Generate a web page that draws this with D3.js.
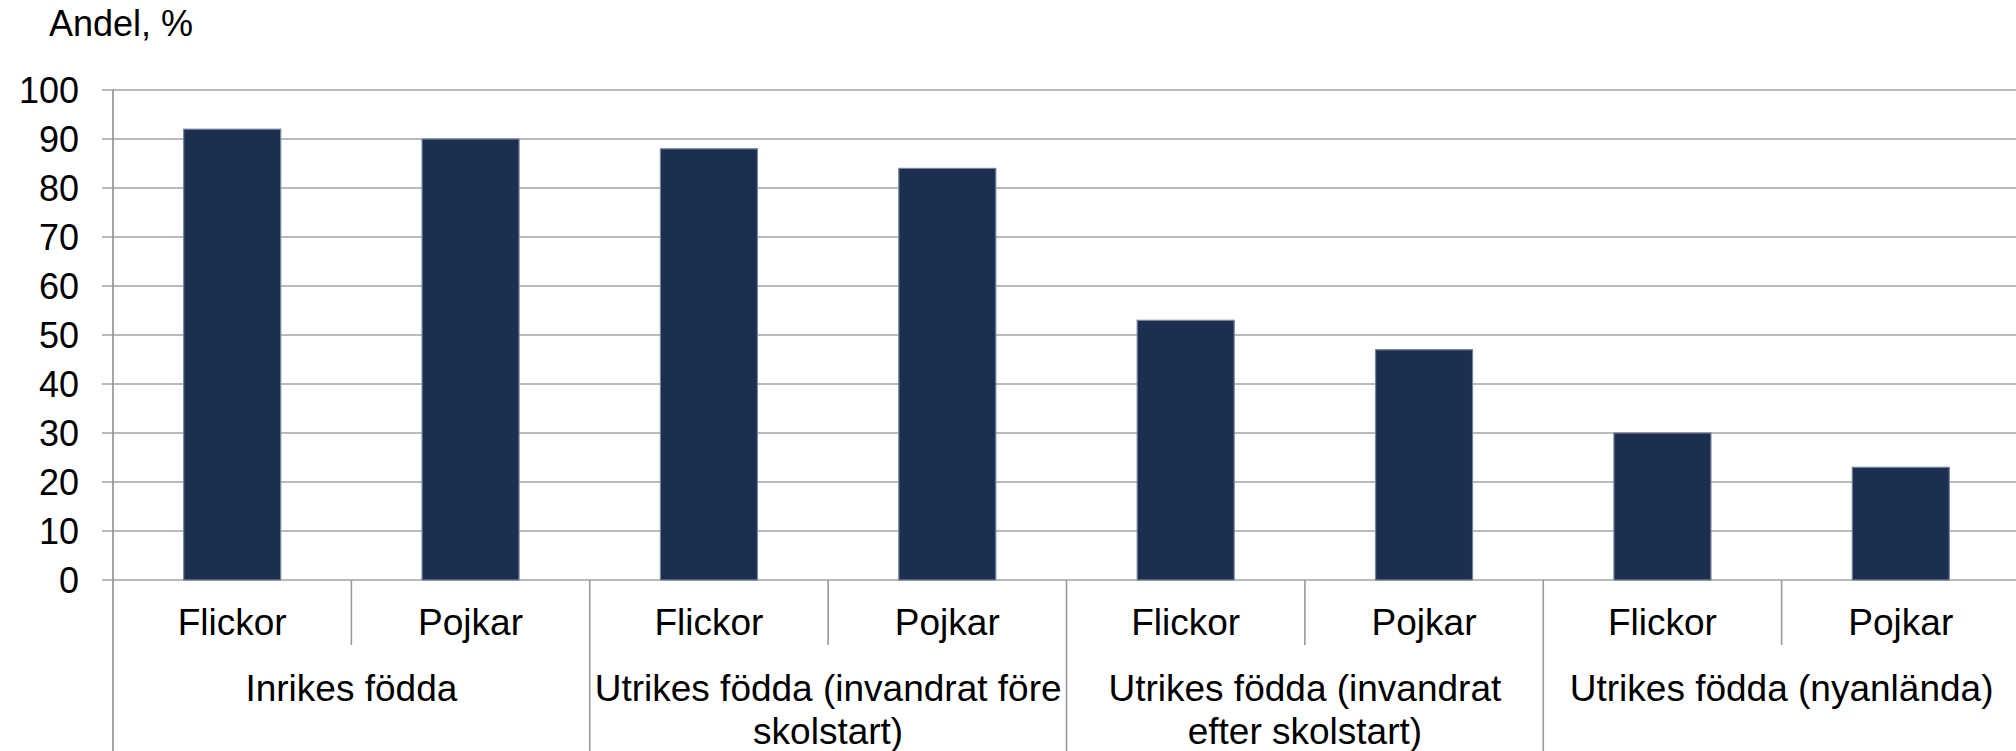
<!DOCTYPE html>
<html>
<head>
    <meta charset="utf-8">
    <title>Andel, % - Flickor och Pojkar</title>
    <script src="https://d3js.org/d3.v7.min.js" charset="utf-8"></script>
    <style>
        html, body { margin: 0; padding: 0; background: #fff; }
        svg { display: block; font-family: "Liberation Sans", Arial, sans-serif; }
    </style>
</head>
<body>
<div id="chart"></div>
<script>
    // chart data
    const groups = [
        "Inrikes födda",
        "Utrikes födda (invandrat före skolstart)",
        "Utrikes födda (invandrat efter skolstart)",
        "Utrikes födda (nyanlända)"
    ];
    const genders = ["Flickor", "Pojkar"];
    const flickor = [92, 88, 53, 30];
    const pojkar = [90, 84, 47, 23];
    const yTicks = [0, 10, 20, 30, 40, 50, 60, 70, 80, 90, 100];
    const yLabel = "Andel, %";

    // flat list of bars, one per group + gender
    const bars = [];
    groups.forEach((g, i) => {
        bars.push({ key: g + "|Flickor", group: g, gender: genders[0], value: flickor[i] });
        bars.push({ key: g + "|Pojkar", group: g, gender: genders[1], value: pojkar[i] });
    });

    const width = 2016;
    const height = 751;
    const margin = { top: 90, left: 113, right: -4, bottom: 171 };
    const plotW = width - margin.left - margin.right;
    const plotH = height - margin.top - margin.bottom;

    const svg = d3.select("#chart").append("svg")
        .attr("width", width)
        .attr("height", height);

    const x = d3.scaleBand()
        .domain(bars.map(d => d.key))
        .range([margin.left, margin.left + plotW])
        .padding(0);

    const y = d3.scaleLinear()
        .domain([0, 100])
        .range([margin.top + plotH, margin.top]);

    const barW = x.bandwidth() * 0.407;

    // gridlines
    svg.append("g")
        .selectAll("line")
        .data(yTicks)
        .join("line")
        .attr("x1", margin.left - 11)
        .attr("x2", width)
        .attr("y1", d => y(d))
        .attr("y2", d => y(d))
        .attr("stroke", "#a3a3a3")
        .attr("stroke-width", 1.6);

    // y axis labels
    const yAxis = d3.axisLeft(y)
        .tickValues(yTicks)
        .tickSize(0)
        .tickPadding(34);
    const yg = svg.append("g")
        .attr("transform", `translate(${margin.left},0)`)
        .call(yAxis);
    yg.select(".domain").remove();
    yg.selectAll("text")
        .attr("font-family", "Liberation Sans, Arial, sans-serif")
        .attr("font-size", 36)
        .attr("fill", "#000")
        .attr("dy", "0.36em");

    // vertical axis line, running down through the label area
    svg.append("line")
        .attr("x1", margin.left).attr("x2", margin.left)
        .attr("y1", margin.top).attr("y2", height)
        .attr("stroke", "#8f8f8f")
        .attr("stroke-width", 1.6);

    // bars
    svg.append("g")
        .selectAll("rect")
        .data(bars)
        .join("rect")
        .attr("x", d => x(d.key) + (x.bandwidth() - barW) / 2)
        .attr("y", d => y(d.value))
        .attr("width", barW)
        .attr("height", d => y(0) - y(d.value))
        .attr("fill", "#1c2f50")
        .attr("stroke", "#76849a")
        .attr("stroke-width", 1.2);

    // x axis tick lines: short between genders, long between groups
    const y0 = y(0);
    svg.append("g")
        .selectAll("line")
        .data(bars.slice(1))
        .join("line")
        .attr("x1", d => x(d.key))
        .attr("x2", d => x(d.key))
        .attr("y1", y0)
        .attr("y2", d => d.gender === genders[0] ? height : 645)
        .attr("stroke", "#9a9a9a")
        .attr("stroke-width", 1.6);

    // gender labels
    svg.append("g")
        .selectAll("text")
        .data(bars)
        .join("text")
        .attr("x", d => x(d.key) + x.bandwidth() / 2)
        .attr("y", 635)
        .attr("text-anchor", "middle")
        .attr("font-size", 37)
        .text(d => d.gender);

    // group labels, wrapped to the group width
    const groupW = x.bandwidth() * 2 - 6;
    const groupText = svg.append("g")
        .selectAll("text")
        .data(groups)
        .join("text")
        .attr("x", d => x(d + "|Flickor") + x.bandwidth())
        .attr("y", 701)
        .attr("text-anchor", "middle")
        .attr("font-size", 37);

    groupText.each(function(d) {
        const t = d3.select(this);
        const words = d.split(" ");
        let line = [];
        let lineNo = 0;
        let tspan = t.append("tspan").attr("x", t.attr("x")).attr("dy", 0);
        words.forEach(w => {
            line.push(w);
            tspan.text(line.join(" "));
            if (tspan.node().getComputedTextLength() > groupW && line.length > 1) {
                line.pop();
                tspan.text(line.join(" "));
                line = [w];
                lineNo++;
                tspan = t.append("tspan").attr("x", t.attr("x")).attr("dy", 43).text(w);
            }
        });
    });

    // y axis title
    svg.append("text")
        .attr("x", 49)
        .attr("y", 36)
        .attr("font-size", 36)
        .text(yLabel);
</script>
</body>
</html>
